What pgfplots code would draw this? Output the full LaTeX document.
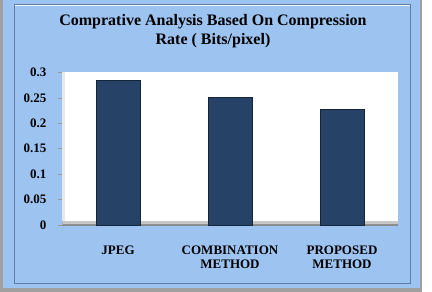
\documentclass[border=0pt]{standalone}
\usepackage{fontspec}
\setmainfont{Liberation Serif}
\usepackage{pgfplots}
\pgfplotsset{compat=1.18}
\definecolor{panelblue}{RGB}{157,195,240}
\definecolor{framegray}{RGB}{120,120,120}
\definecolor{innerline}{RGB}{95,125,165}
\definecolor{barblue}{RGB}{38,66,102}
\definecolor{baredge}{RGB}{20,36,58}
\definecolor{floorgray}{RGB}{175,175,175}
\begin{document}
\begin{tikzpicture}[x=1bp,y=1bp]
% page
\fill[white] (0,0) rectangle (432,292);
\fill[framegray!70] (0,0) rectangle (422,292);
\fill[panelblue] (3,4) rectangle (420,292);
\draw[innerline, line width=1bp] (14,9) -- (14,287) -- (410,287) -- (410,9) -- cycle;
\draw[white!85!panelblue, line width=1bp] (14.5,286.5) -- (409.5,286.5);
% title
\node[align=center, font=\fontsize{16bp}{19bp}\selectfont\bfseries] at (213,261)
  {Comprative Analysis Based On Compression\\Rate ( Bits/pixel)};
\begin{axis}[
  at={(62bp,67bp)}, anchor=south west,
  scale only axis, width=336bp, height=152.5bp,
  xmin=-0.5, xmax=2.5, ymin=0, ymax=0.3,
  axis background/.style={fill=white},
  axis line style={draw=none},
  axis x line*=bottom, axis y line*=left,
  ytick={0,0.05,0.1,0.15,0.2,0.25,0.3},
  yticklabels={0,0.05,0.1,0.15,0.2,0.25,0.3},
  xtick={0,1,2},
  xticklabels={JPEG,COMBINATION\\METHOD,PROPOSED\\METHOD},
  major x tick style={draw=none},
  extra x ticks={0.5,1.5,2.5},
  extra x tick labels={},
  extra x tick style={tick style={draw=gray!80, line width=0.6bp}, major tick length=5bp, tick align=outside},
  ytick style={draw=gray!80, line width=0.6bp},
  major tick length=4bp, tick align=outside,
  yticklabel style={font=\fontsize{13bp}{15bp}\selectfont\bfseries, anchor=east, xshift=-8bp},
  xticklabel style={font=\fontsize{13bp}{14bp}\selectfont\bfseries, align=center, yshift=-13bp},
  /pgf/number format/assume math mode=true,
  ybar, bar width=44bp,
  clip=false,
]
% floor / wall decoration
\fill[floorgray!70] (axis cs:-0.5,0) rectangle (axis cs:2.5,0.007);
\draw[gray!90, line width=1.2bp] (axis cs:-0.5,0) -- (axis cs:2.5,0);
\draw[gray!60, line width=0.8bp] (axis cs:-0.5,0) -- (axis cs:-0.5,0.3);
\fill[gray!18] (axis cs:-0.5,0.007) rectangle (axis cs:-0.47,0.3);
\addplot[fill=barblue, draw=baredge, line width=0.8bp] coordinates {(0,0.284) (1,0.251) (2,0.227)};
\end{axis}
\end{tikzpicture}
\end{document}
